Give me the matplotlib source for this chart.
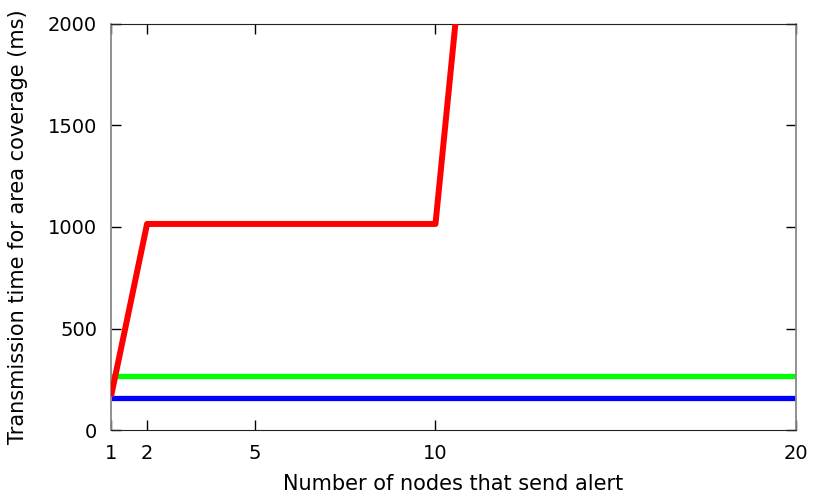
import matplotlib
matplotlib.use("Agg")
import matplotlib.pyplot as plt

# nodes that send alert
nodes_red = [1, 2, 10, 11]
time_red = [165, 1015, 1015, 2800]

nodes_flat = [1, 20]
time_green = [266, 266]
time_blue = [158, 158]

xticks = [1, 2, 5, 10, 20]
yticks = [0, 500, 1000, 1500, 2000]

plt.rcParams['font.family'] = ['DejaVu Sans']

fig = plt.figure(figsize=(8.3, 4.98), dpi=100)
ax = fig.add_axes([111/830, 1 - 430/498, (796-111)/830, (430-24)/498])

ax.plot(nodes_flat, time_green, color='#00ff00', lw=3.8, solid_capstyle='butt', zorder=2)
ax.plot(nodes_flat, time_blue, color='#0000ff', lw=3.8, solid_capstyle='butt', zorder=2)
ax.plot(nodes_red, time_red, color='#ff0000', lw=4.3, solid_capstyle='butt', zorder=3)

ax.set_xlim(1, 20)
ax.set_ylim(0, 2000)
ax.set_xticks(xticks)
ax.set_yticks(yticks)
ax.tick_params(direction='in', top=True, right=True, length=7, width=1, pad=10, labelsize=14)

for s in ['top', 'bottom']:
    ax.spines[s].set_color('#222222')
for s in ['left', 'right']:
    ax.spines[s].set_color('#888888')
    ax.spines[s].set_linewidth(1.3)

ax.set_xlabel('Number of nodes that send alert', fontsize=15, labelpad=8)
ax.set_ylabel('Transmission time for area coverage (ms)', fontsize=15, labelpad=14)

fig.savefig('out.png', dpi=100)
